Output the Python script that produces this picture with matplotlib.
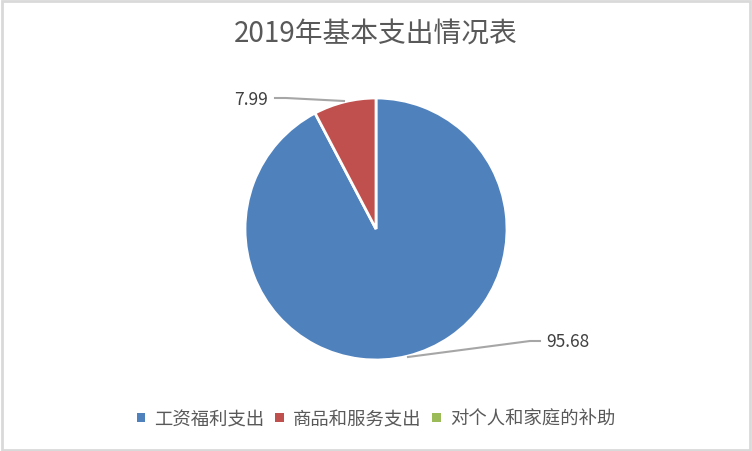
import matplotlib.pyplot as plt
from matplotlib.patches import Rectangle, Patch

plt.rcParams['font.family'] = ['Noto Sans CJK SC', 'DejaVu Sans']

# 数据
categories = ['工资福利支出', '商品和服务支出', '对个人和家庭的补助']
values = [95.68, 7.99, 0.0]
colors = ['#4F81BD', '#C0504D', '#9BBB59']

fig = plt.figure(figsize=(7.52, 4.52), dpi=100)

# 外框
fig.patches.append(Rectangle((0.002, 0.002), 0.995, 0.994, transform=fig.transFigure,
                             fill=False, edgecolor='#D9D9D9', linewidth=2))

# 饼图区域：圆心 (376, 230)，半径 131 像素
W, H = 752, 452
cx, cy, r = 376, 230, 131
ax = fig.add_axes([(cx - r) / W, (H - cy - r) / H, 2 * r / W, 2 * r / H])
nz = [(v, c) for v, c in zip(values, colors) if v > 0]
ax.pie([v for v, _ in nz], colors=[c for _, c in nz], startangle=90, counterclock=False,
       wedgeprops=dict(edgecolor='white', linewidth=2), radius=1)
ax.set_xlim(-1, 1)
ax.set_ylim(-1, 1)
ax.set_aspect('equal')
ax.axis('off')

# 数据标签与引导线（像素坐标转换为图形坐标）
def px(x, y):
    return (x / W, 1 - y / H)

label_color = '#404040'
line_color = '#A6A6A6'
fig.add_artist(plt.Line2D(*zip(px(275, 99), px(286, 99), px(344, 102)),
                          transform=fig.transFigure, color=line_color, lw=1.5))
fig.text(*px(268, 100), f'{values[1]:.2f}', ha='right', va='center',
         fontsize=12.5, color=label_color)
fig.add_artist(plt.Line2D(*zip(px(408, 358), px(530, 342), px(540, 342)),
                          transform=fig.transFigure, color=line_color, lw=1.5))
fig.text(*px(546, 342), f'{values[0]:.2f}', ha='left', va='center',
         fontsize=12.5, color=label_color)

# 标题
fig.text(0.5, 1 - 35 / H, '2019年基本支出情况表', ha='center', va='center',
         fontsize=20, color='#595959')

# 图例
handles = [Patch(facecolor=c, edgecolor='none') for c in colors]
fig.legend(handles, categories, loc='center', bbox_to_anchor=(0.5, 1 - 420 / H),
           ncol=3, frameon=False, fontsize=13.2, labelcolor='#595959',
           handlelength=0.45, handleheight=0.45, handletextpad=0.5,
           columnspacing=0.6)

fig.savefig('out.png', dpi=100)
